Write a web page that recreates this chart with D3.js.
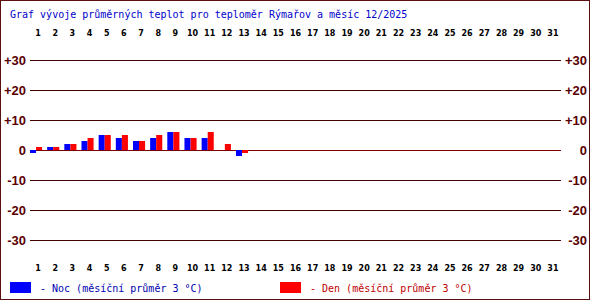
<!DOCTYPE html>
<html>
<head>
<meta charset="utf-8">
<script src="https://cdn.jsdelivr.net/npm/d3@7"></script>
<style>
  body { margin: 0; background: #fff; }
  svg { display: block; }
</style>
</head>
<body>
<div id="chart"></div>
<script>
const W = 590, H = 300

const title = 'Graf vývoje průměrných teplot pro teploměr Rýmařov a měsíc 12/2025'
const days = d3.range(1, 32)
// teploty po dnech (°C), null = bez dat
const noc = [-1, 1, 2, 3, 5, 4, 3, 4, 6, 4, 4, 0, -2]
const den = [1, 1, 2, 4, 5, 5, 3, 5, 6, 4, 6, 2, -1]
const yTicks = [30, 20, 10, 0, -10, -20, -30]
const legend = [
  { key: 'noc', label: '- Noc (měsíční průměr 3 °C)', fill: '#0000ff', text: '#0000b0' },
  { key: 'den', label: '- Den (měsíční průměr 3 °C)', fill: '#ff0000', text: '#c00000' }
]

const series = { noc, den }

const svg = d3.select('#chart').append('svg')
  .attr('width', W)
  .attr('height', H)

svg.append('rect')
  .attr('x', 0.5).attr('y', 0.5)
  .attr('width', W - 1).attr('height', H - 1)
  .style('fill', '#fff')
  .style('stroke', '#5a1010')

const x = d3.scaleBand()
  .domain(days)
  .range([30, 30 + 31 * 17])
  .paddingInner(5 / 17)
  .paddingOuter(0)
  .align(0)

const xs = d3.scaleBand()
  .domain(['noc', 'den'])
  .range([0, x.bandwidth()])

const y = d3.scaleLinear().domain([-30, 30]).range([240, 60])

// title
svg.append('text')
  .attr('x', 10).attr('y', 18)
  .style('font-family', 'DejaVu Sans Mono')
  .style('font-size', '10px')
  .style('fill', '#0000cc')
  .text(title)

// grid
svg.append('g').selectAll('line')
  .data(yTicks)
  .enter().append('line')
  .attr('x1', 30).attr('x2', 561)
  .attr('y1', d => Math.round(y(d)) + 0.5)
  .attr('y2', d => Math.round(y(d)) + 0.5)
  .style('stroke', d => d === 0 ? '#7a0000' : '#400000')

// y labels both sides
const fmt = d => d > 0 ? '+' + d : '' + d
;[{ x: 26 }, { x: 587 }].forEach(side => {
  svg.append('g').selectAll('text')
    .data(yTicks)
    .enter().append('text')
    .attr('x', side.x)
    .attr('y', d => y(d) + 5)
    .attr('text-anchor', 'end')
    .style('font-family', 'Liberation Sans')
    .style('font-weight', 'bold')
    .style('font-size', '13px')
    .style('fill', '#5a0000')
    .text(fmt)
})

// day labels top & bottom
;[36, 271].forEach(yy => {
  svg.append('g').selectAll('text')
    .data(days)
    .enter().append('text')
    .attr('x', d => x(d) + x.bandwidth() / 2 + 2)
    .attr('y', yy)
    .attr('text-anchor', 'middle')
    .style('font-family', 'DejaVu Sans')
    .style('font-weight', 'bold')
    .style('font-size', '8px')
    .style('fill', '#000')
    .text(d => d)
})

// bars
legend.forEach(s => {
  const vals = series[s.key]
  svg.append('g').selectAll('rect')
    .data(vals.map((v, i) => ({ day: days[i], v })).filter(d => d.v != null))
    .enter().append('rect')
    .attr('x', d => x(d.day) + xs(s.key))
    .attr('width', xs.bandwidth())
    .attr('y', d => y(Math.max(0, d.v)))
    .attr('height', d => Math.abs(y(d.v) - y(0)))
    .style('fill', s.fill)
})

// legend
const lg = svg.append('g').selectAll('g')
  .data(legend)
  .enter().append('g')
  .attr('transform', (d, i) => 'translate(' + (10 + i * 270) + ',282)')

lg.append('rect')
  .attr('width', 21).attr('height', 11)
  .style('fill', d => d.fill)

lg.append('text')
  .attr('x', 30).attr('y', 10)
  .style('font-family', 'DejaVu Sans Mono')
  .style('font-size', '10px')
  .style('fill', d => d.text)
  .text(d => d.label)
</script>
</body>
</html>
